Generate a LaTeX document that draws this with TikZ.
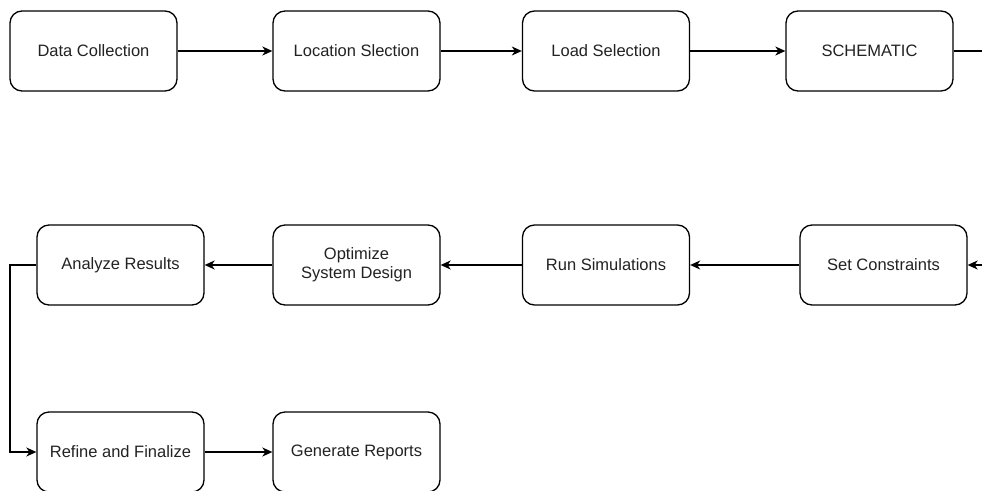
\documentclass[tikz,border=0pt]{standalone}
\usepackage{fontspec}
\setmainfont{Liberation Sans}
\usetikzlibrary{arrows.meta}
\definecolor{txt}{HTML}{222222}
\begin{document}
\begin{tikzpicture}[x=1pt,y=-1pt,
  stepbox/.style={draw=black,line width=1.3pt,rounded corners=12pt,
    minimum width=167pt,minimum height=80pt,inner sep=0pt,align=center,
    font=\fontsize{16.5}{19}\selectfont,text=txt},
  conn/.style={draw=black,line width=1.3pt,-{Stealth[length=10pt,width=9pt,inset=3pt]}},
  plain/.style={draw=black,line width=1.3pt}]
\clip (0,0) rectangle (982,490);
\useasboundingbox (0,0) rectangle (982,490);
\node[stepbox] (dc) at (93.5,51) {Data Collection};
\node[stepbox] (loc) at (356.5,51) {Location Slection};
\node[stepbox] (load) at (606,51) {Load Selection};
\node[stepbox] (sch) at (869.5,51) {SCHEMATIC};
\node[stepbox] (setc) at (883.5,265) {Set Constraints};
\node[stepbox] (run) at (606,265) {Run Simulations};
\node[stepbox] (opt) at (356.5,265) {Optimize\\System Design};
\node[stepbox] (anal) at (120.5,265) {Analyze Results};
\node[stepbox] (ref) at (120.5,452) {Refine and Finalize};
\node[stepbox] (gen) at (356.5,452) {Generate Reports};
\coordinate (schout) at (984,51);
\coordinate (setcin) at (984,265);
\coordinate (loopx) at (10,265);
\draw[conn] (dc) -- (loc);
\draw[conn] (loc) -- (load);
\draw[conn] (load) -- (sch);
\draw[plain] (sch.east) -- (schout);
\draw[conn] (setcin) -- (setc.east);
\draw[conn] (setc) -- (run);
\draw[conn] (run) -- (opt);
\draw[conn] (opt) -- (anal);
\draw[conn] (anal.west) -- (loopx) |- (ref.west);
\draw[conn] (ref) -- (gen);
\end{tikzpicture}
\end{document}
